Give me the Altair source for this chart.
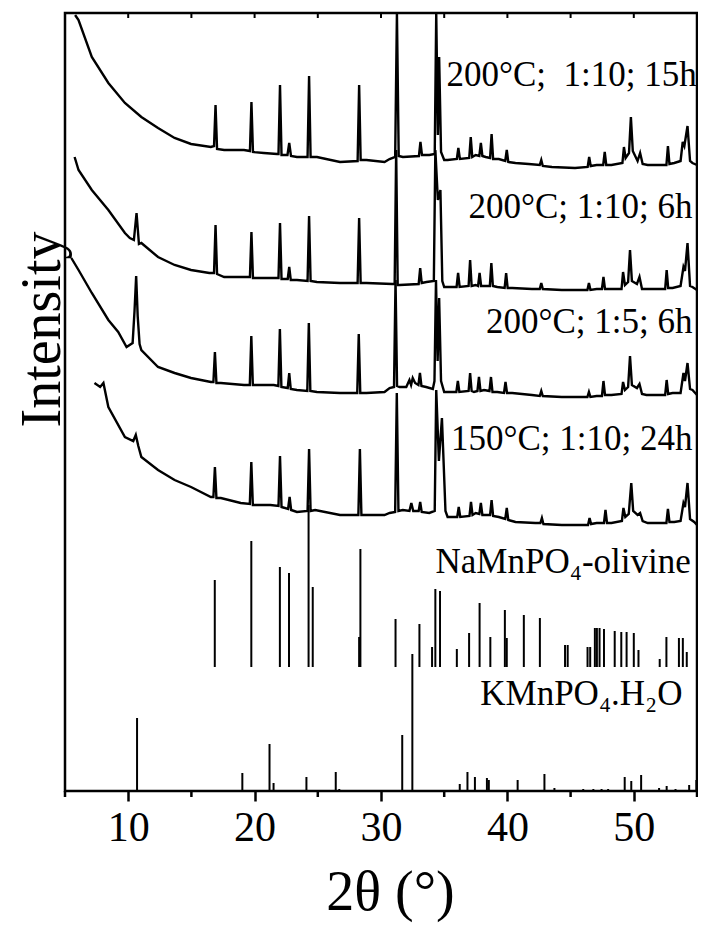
import altair as alt
import pandas as pd

FONT = "Liberation Serif"

CURVE_15H = [
    (5.80, 776), (6.07, 771), (7.12, 734), (8.43, 708), (9.74, 688), (11.04, 674),
    (12.36, 663), (13.67, 653), (14.97, 647), (16.54, 644), (16.79, 645), (16.91, 686),
    (17.03, 642), (17.59, 641), (19.16, 641), (19.63, 640), (19.75, 689), (19.87, 639),
    (20.73, 638), (21.78, 637), (21.89, 637), (22.01, 706), (22.13, 636), (22.60, 636),
    (22.74, 648), (22.88, 635), (23.35, 634), (24.19, 634), (24.31, 715), (24.43, 634),
    (24.93, 634), (26.76, 629), (28.15, 630), (28.27, 706), (28.39, 631), (28.85, 631),
    (30.28, 629), (30.68, 632), (31.12, 634), (31.26, 778), (31.40, 635), (31.73, 634),
    (33.00, 635), (33.12, 649), (33.24, 636), (33.82, 636), (34.25, 637), (34.37, 778),
    (34.50, 656), (34.60, 734), (34.75, 639), (35.00, 631), (35.27, 631), (36.00, 632),
    (36.12, 643), (36.24, 632), (36.98, 633), (37.10, 654), (37.22, 634), (37.49, 636),
    (37.78, 635), (37.90, 648), (38.02, 635), (38.28, 634), (38.63, 633), (38.75, 657),
    (38.87, 632), (39.32, 632), (39.83, 630), (39.95, 641), (40.07, 629), (40.64, 628),
    (41.68, 627), (42.56, 626), (42.68, 631), (42.80, 625), (43.52, 624), (45.35, 623),
    (46.35, 624), (46.47, 634), (46.59, 625), (47.06, 626), (47.58, 626), (47.70, 639),
    (47.82, 626), (48.23, 626), (49.10, 628), (49.22, 644), (49.35, 633), (49.62, 638),
    (49.77, 674), (49.92, 640), (50.30, 630), (50.50, 638), (50.70, 627), (51.10, 626),
    (52.15, 626), (52.58, 626), (52.70, 645), (52.82, 627), (53.20, 628), (53.70, 630),
    (53.87, 649), (54.00, 645), (54.25, 665), (54.45, 630), (54.64, 628), (55.00, 626),
]

CURVE_6H = [
    (5.76, 634), (6.07, 621), (7.12, 601), (8.43, 581), (9.74, 558), (10.13, 553),
    (10.45, 551), (10.66, 578), (10.85, 547), (11.04, 548), (12.36, 534), (13.67, 526),
    (14.97, 521), (16.42, 518), (16.79, 518), (16.91, 566), (17.03, 517), (17.59, 514),
    (19.16, 514), (19.63, 514), (19.75, 559), (19.87, 513), (20.46, 513), (21.52, 513),
    (21.89, 513), (22.01, 568), (22.13, 512), (22.62, 512), (22.74, 524), (22.86, 511),
    (23.35, 511), (24.19, 510), (24.31, 575), (24.43, 510), (24.93, 509), (26.76, 508),
    (28.15, 508), (28.27, 573), (28.39, 508), (28.85, 508), (30.90, 507), (31.08, 507),
    (31.20, 641), (31.32, 506), (31.47, 506), (32.98, 507), (33.10, 523), (33.22, 508),
    (33.60, 509), (34.18, 510), (34.30, 641), (34.50, 591), (34.70, 601), (34.85, 510),
    (35.00, 504), (35.98, 504), (36.10, 518), (36.22, 504), (36.93, 505), (37.05, 531),
    (37.17, 505), (37.49, 506), (37.68, 505), (37.80, 518), (37.92, 505), (38.61, 505),
    (38.73, 528), (38.85, 505), (39.20, 504), (39.78, 503), (39.90, 518), (40.02, 503),
    (40.38, 503), (41.94, 502), (42.56, 502), (42.68, 508), (42.80, 502), (44.30, 501),
    (46.33, 501), (46.45, 508), (46.57, 501), (47.06, 502), (47.48, 502), (47.60, 514),
    (47.72, 502), (48.23, 502), (49.03, 502), (49.15, 519), (49.30, 506), (49.55, 509),
    (49.70, 541), (49.85, 510), (50.25, 507), (50.45, 514), (50.65, 502), (50.97, 502),
    (52.15, 502), (52.48, 502), (52.60, 521), (52.72, 503), (53.07, 503), (53.70, 505),
    (53.93, 524), (54.05, 520), (54.25, 548), (54.45, 505), (54.64, 504), (55.00, 501),
]

CURVE_1TO5 = [
    (5.50, 533), (6.07, 521), (7.12, 498), (8.43, 471), (9.21, 459), (9.87, 444),
    (10.35, 448), (10.50, 480), (10.63, 515), (10.75, 475), (10.90, 447), (11.04, 441),
    (12.36, 424), (13.67, 418), (14.97, 413), (16.54, 409), (16.74, 409), (16.86, 439),
    (16.98, 408), (17.33, 408), (19.16, 406), (19.62, 406), (19.74, 455), (19.86, 406),
    (20.21, 406), (21.52, 406), (21.88, 405), (22.00, 462), (22.12, 404), (22.62, 403),
    (22.74, 418), (22.86, 402), (23.35, 401), (24.17, 400), (24.29, 468), (24.41, 400),
    (24.93, 399), (26.76, 398), (28.12, 398), (28.24, 457), (28.36, 398), (28.85, 398),
    (30.28, 399), (30.68, 403), (31.03, 404), (31.15, 511), (31.27, 405), (31.47, 404),
    (32.00, 404), (32.25, 411), (32.38, 406), (32.51, 413), (32.70, 408), (32.96, 406),
    (33.08, 418), (33.20, 405), (33.57, 404), (34.10, 402), (34.23, 410), (34.35, 511),
    (34.48, 430), (34.60, 493), (34.75, 410), (35.00, 399), (35.96, 399), (36.08, 410),
    (36.20, 399), (36.93, 400), (37.05, 418), (37.17, 400), (37.36, 399), (37.63, 400),
    (37.75, 414), (37.87, 400), (38.15, 401), (38.58, 400), (38.70, 414), (38.82, 399),
    (39.20, 399), (39.73, 398), (39.85, 409), (39.97, 398), (40.38, 398), (41.94, 396),
    (42.56, 395), (42.68, 400), (42.80, 395), (44.30, 394), (45.88, 394), (46.33, 394),
    (46.45, 399), (46.57, 394), (47.06, 395), (47.48, 395), (47.60, 410), (47.72, 396),
    (48.23, 396), (49.03, 397), (49.15, 409), (49.30, 401), (49.55, 404), (49.70, 435),
    (49.85, 406), (50.25, 403), (50.45, 407), (50.65, 397), (51.00, 396), (52.15, 396),
    (52.48, 396), (52.60, 411), (52.72, 397), (53.07, 398), (53.70, 398), (53.93, 418),
    (54.05, 410), (54.25, 428), (54.45, 402), (54.64, 401), (55.00, 396),
]

CURVE_150C = [
    (7.33, 408), (7.78, 404), (8.04, 408), (8.43, 384), (9.74, 354), (10.40, 350),
    (10.60, 356), (10.80, 345), (11.04, 334), (12.36, 321), (13.67, 311), (14.97, 304),
    (16.54, 294), (16.74, 294), (16.86, 324), (16.98, 293), (17.33, 293), (18.90, 288),
    (19.62, 287), (19.74, 329), (19.86, 286), (20.21, 286), (21.25, 286), (21.89, 285),
    (22.01, 335), (22.13, 284), (22.65, 282), (22.77, 294), (22.89, 281), (23.35, 279),
    (24.19, 280), (24.31, 342), (24.43, 280), (24.79, 281), (26.76, 276), (28.21, 276),
    (28.33, 342), (28.45, 276), (28.85, 276), (30.28, 276), (30.68, 278), (31.12, 279),
    (31.25, 398), (31.38, 280), (31.73, 281), (32.25, 280), (32.40, 288), (32.55, 280),
    (32.98, 280), (33.10, 289), (33.22, 279), (33.82, 278), (34.25, 280), (34.37, 401),
    (34.58, 330), (34.82, 373), (35.10, 280), (35.27, 274), (36.03, 274), (36.15, 284),
    (36.27, 274), (37.00, 275), (37.12, 289), (37.24, 276), (37.49, 278), (37.78, 277),
    (37.90, 288), (38.02, 276), (38.28, 276), (38.63, 276), (38.75, 291), (38.87, 275),
    (39.32, 274), (39.83, 272), (39.95, 283), (40.07, 271), (40.64, 269), (42.21, 268),
    (42.61, 268), (42.73, 273), (42.85, 267), (44.30, 266), (45.88, 266), (46.38, 266),
    (46.50, 273), (46.62, 267), (47.06, 268), (47.64, 268), (47.76, 281), (47.88, 268),
    (48.23, 268), (49.06, 270), (49.18, 283), (49.33, 274), (49.60, 277), (49.80, 308),
    (49.95, 280), (50.30, 276), (50.50, 278), (50.70, 270), (51.10, 268), (52.15, 268),
    (52.58, 268), (52.70, 282), (52.82, 269), (53.20, 269), (53.70, 270), (53.93, 288),
    (54.05, 284), (54.25, 308), (54.45, 272), (54.78, 269), (55.00, 266),
]

# ---- reference stick patterns ----
OLIVINE_POS = [16.85, 19.74, 22.00, 22.72, 24.27, 24.60, 28.27, 28.37, 31.15, 33.04,
               34.04, 34.30, 34.67, 36.00, 36.97, 37.80, 38.65, 39.80, 39.95, 41.30,
               42.57, 44.56, 44.77, 46.34, 46.55, 46.92, 47.08, 47.29, 47.64, 48.49,
               49.01, 49.43, 50.00, 50.37, 52.05, 52.58, 53.57, 53.88, 54.19]
OLIVINE_TOP = [211, 250, 224, 218, 286, 204, 154, 242, 172, 167,
               144, 202, 200, 142, 158, 188, 154, 181, 153, 176,
               173, 146, 146, 144, 144, 163, 163, 163, 162, 160,
               159, 159, 158, 141, 132, 154, 153, 153, 139]
OLIVINE_BASE = 124

KMN_POS = [10.70, 19.03, 21.18, 21.50, 24.10, 26.42, 26.70, 31.68, 32.48, 36.23,
           36.84, 37.43, 38.38, 38.53, 40.81, 42.93, 43.72, 46.00, 46.80, 47.45,
           47.97, 49.28, 49.80, 50.58, 52.00, 52.60, 53.30, 54.38, 54.95]
KMN_TOP = [73, 18, 47, 8, 14, 19, 2, 56, 137, 7,
           19, 14, 13, 11, 11, 17, 3, 2, 2, 2,
           2, 14, 10, 16, 3, 5, 2, 6, 11]
KMN_BASE = 0

# ---- annotations ----
LABEL_TEXT = ["200°C;\u00a0 1:10; 15h", "200°C; 1:10; 6h", "200°C; 1:5; 6h",
              "150°C; 1:10; 24h", "NaMnPO₄-olivine", "KMnPO₄.H₂O"]
LABEL_X = [54.98, 54.64, 54.64, 54.64, 54.51, 53.86]
LABEL_Y = [705, 573, 458, 341, 218, 86]

MAJOR_TICKS = [10, 20, 30, 40, 50]
MINOR_TICKS = [5, 15, 25, 35, 45, 55]
TOP_TICKS = [10, 15, 20, 25, 30, 35, 40, 45, 50]

rows = []
for name, pts in [("15h", CURVE_15H), ("6h", CURVE_6H), ("1to5", CURVE_1TO5), ("150C", CURVE_150C)]:
    for i, (x, y) in enumerate(pts):
        rows.append({"series": name, "x": x, "y": y, "i": i})
curves = pd.DataFrame(rows)

olivine = pd.DataFrame({"x": OLIVINE_POS, "top": OLIVINE_TOP, "base": OLIVINE_BASE})
kmn = pd.DataFrame({"x": KMN_POS, "top": KMN_TOP, "base": KMN_BASE})
labels = pd.DataFrame({"x": LABEL_X, "y": LABEL_Y, "text": LABEL_TEXT})
minor = pd.DataFrame({"x": MINOR_TICKS, "y0": -6, "y1": 0})
topt = pd.DataFrame({"x": TOP_TICKS, "y0": 778, "y1": 773})

xs = alt.Scale(domain=[5, 55], nice=False, zero=False)
ys = alt.Scale(domain=[0, 778], nice=False, zero=False)

x_axis = alt.Axis(
    values=MAJOR_TICKS, tickSize=10, tickWidth=2.5, tickColor="black",
    labelFont=FONT, labelFontSize=42, labelColor="black", labelPadding=39,
    labelBaseline="alphabetic", domain=False, grid=False,
    title="2θ (°)", titleFont=FONT, titleFontSize=56, titleFontWeight="normal",
    titleColor="black", titleX=325, titleY=118, titleAlign="center",
    titleBaseline="alphabetic",
)
y_axis = alt.Axis(
    labels=False, ticks=False, domain=False, grid=False,
    title="Intensity", titleFont=FONT, titleFontSize=56, titleFontWeight="normal",
    titleColor="black", titleX=-6, titleY=316, titleAlign="center",
    titleBaseline="alphabetic",
)

lines = alt.Chart(curves).mark_line(color="black", strokeWidth=2.4).encode(
    x=alt.X("x:Q", scale=xs, axis=x_axis),
    y=alt.Y("y:Q", scale=ys, axis=y_axis),
    detail="series:N",
    order="i:Q",
)

ol = alt.Chart(olivine).mark_rule(color="black", strokeWidth=2).encode(
    x=alt.X("x:Q", scale=xs), y=alt.Y("top:Q", scale=ys), y2="base:Q"
)
km = alt.Chart(kmn).mark_rule(color="black", strokeWidth=2).encode(
    x=alt.X("x:Q", scale=xs), y=alt.Y("top:Q", scale=ys), y2="base:Q"
)
mt = alt.Chart(minor).mark_rule(color="black", strokeWidth=2.5).encode(
    x=alt.X("x:Q", scale=xs), y=alt.Y("y0:Q", scale=ys), y2="y1:Q"
)
tt = alt.Chart(topt).mark_rule(color="black", strokeWidth=2).encode(
    x=alt.X("x:Q", scale=xs), y=alt.Y("y0:Q", scale=ys), y2="y1:Q"
)
txt = alt.Chart(labels).mark_text(
    align="right", baseline="alphabetic", font=FONT, fontSize=35, color="black"
).encode(
    x=alt.X("x:Q", scale=xs), y=alt.Y("y:Q", scale=ys), text="text:N"
)

chart = alt.layer(lines, ol, km, mt, tt, txt).properties(
    width=632, height=778,
    background="white",
    autosize=alt.AutoSizeParams(type="none"),
    padding={"left": 57, "top": 5, "right": 1, "bottom": 134},
).configure_view(stroke="black", strokeWidth=2.5)

chart.save("out.html", embed_options={"renderer": "svg", "actions": False})
